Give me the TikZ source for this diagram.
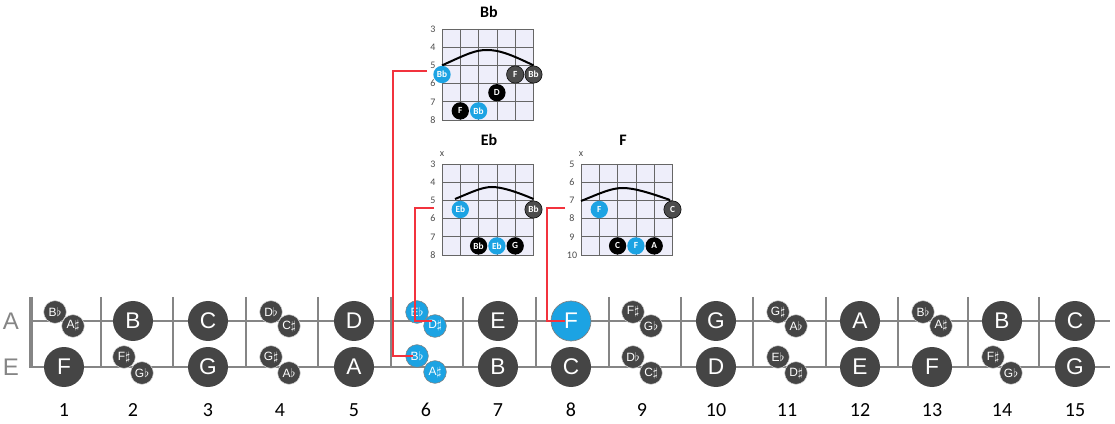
\documentclass[tikz,border=0pt]{standalone}
\usepackage{fontspec}
\setmainfont{Liberation Sans}
\newfontfamily\numfont{Carlito}
\definecolor{notegray}{HTML}{454545}
\definecolor{noteblue}{HTML}{1CA3E3}
\definecolor{linegray}{HTML}{858585}
\definecolor{chartbg}{HTML}{EEEEFA}
\definecolor{linkred}{HTML}{F2333D}
\newcommand{\fl}{$\flat$}
\newcommand{\sh}{$\sharp$}
\def\fretpos{{64,133,208,280,354,426,498,571,642,716,787,860,932,1002,1075}}
\tikzset{
  fretline/.style={linegray,line width=1.5pt},
  nutline/.style={linegray,line width=3.5pt},
  bignote/.style={circle,fill=notegray,minimum size=30pt,inner sep=0pt,text=white,font=\fontsize{17}{17}\selectfont},
  bluenote/.style={bignote,fill=noteblue,draw=gray,line width=0.5pt},
  smallnote/.style={circle,fill=notegray,draw=white!70!gray,line width=0.4pt,minimum size=17pt,inner sep=0pt,text=white,font=\fontsize{9}{9}\selectfont},
  bluesmall/.style={smallnote,fill=noteblue,draw=gray},
  stringname/.style={text=linegray,font=\fontsize{18}{18}\selectfont},
  fretnum/.style={font=\numfont\fontsize{15}{15}\selectfont},
  chartline/.style={black!60,line width=0.5pt},
  barre/.style={black,line width=1.5pt},
  charttitle/.style={font=\numfont\bfseries\fontsize{12}{12}\selectfont},
  chartfret/.style={text=black!70,font=\numfont\fontsize{7.5}{7.5}\selectfont},
  rootdot/.style={circle,fill=noteblue,minimum size=13pt,inner sep=0pt,text=white,font=\numfont\bfseries\fontsize{7}{7}\selectfont},
  tonedot/.style={rootdot,fill=black},
  barredot/.style={rootdot,fill=black!70,draw=black,line width=0.4pt},
  link/.style={linkred,line width=1.8pt},
}
\begin{document}
\begin{tikzpicture}[x=0.75pt,y=-0.75pt]
\useasboundingbox (0,0) rectangle (1115,424);

% fretboard
\foreach \x in {101,173,246,318,391,463,536,609,681,753,826,898,968,1039}
  \draw[fretline] (\x,297) -- (\x,367);
\draw[fretline] (30,321) -- (1110,321);
\draw[fretline] (30,367) -- (1110,367);
\draw[nutline] (31,297) -- (31,368);
\node[stringname] at (11,321) (sa) {A};
\node[stringname] at (11,367) (se) {E};
\foreach \f in {1,...,15} {
  \pgfmathsetmacro\cx{\fretpos[\f-1]}
  \node[fretnum] at (\cx,410) (n\f) {\f};
}

% A string
\foreach \f/\t in {2/B,3/C,5/D,7/E,10/G,12/A,14/B,15/C} {
  \pgfmathsetmacro\cx{\fretpos[\f-1]}
  \node[bignote] at (\cx,321) (a\f) {\t};
}
\foreach \f/\u/\l in {1/B\fl/A\sh,4/D\fl/C\sh,9/F\sh/G\fl,11/G\sh/A\fl,13/B\fl/A\sh} {
  \pgfmathsetmacro\cx{\fretpos[\f-1]}
  \node[smallnote] at (\cx-9,312) (a\f u) {\u};
  \node[smallnote] at (\cx+9,326) (a\f l) {\l};
}
\node[bluesmall] at (417,312) (a6u) {E\fl};
\node[bluesmall] at (435,326) (a6l) {D\sh};
\node[bluenote] at (571,321) (a8) {F};

% E string
\foreach \f/\t in {1/F,3/G,5/A,7/B,8/C,10/D,12/E,13/F,15/G} {
  \pgfmathsetmacro\cx{\fretpos[\f-1]}
  \node[bignote] at (\cx,367) (e\f) {\t};
}
\foreach \f/\u/\l in {2/F\sh/G\fl,4/G\sh/A\fl,9/D\fl/C\sh,11/E\fl/D\sh,14/F\sh/G\fl} {
  \pgfmathsetmacro\cx{\fretpos[\f-1]}
  \node[smallnote] at (\cx-9,357) (e\f u) {\u};
  \node[smallnote] at (\cx+9,373) (e\f l) {\l};
}
\node[bluesmall] at (417,356) (e6u) {B\fl};
\node[bluesmall] at (435,372) (e6l) {A\sh};

% Bb chart
\begin{scope}[shift={(442,29)}]
  \fill[chartbg] (0,0) rectangle (91.5,91);
  \foreach \i in {0,...,5} {
    \draw[chartline] (\i*18.3,0) -- (\i*18.3,91);
    \draw[chartline] (0,\i*18.2) -- (91.5,\i*18.2);
  }
  \foreach \n [count=\i from 0] in {3,...,8}
    \node[chartfret] at (-9,\i*18.2) {\n};
  \node[charttitle] at (47,-17) (bbtitle) {Bb};
  \draw[barre] (0,36.4) .. controls (25,25) and (33,21) .. (45,21)
    .. controls (57,21) and (68,25) .. (91.5,36.4);
  \node[rootdot] at (0,45.5) (bb1) {Bb};
  \node[barredot] at (73.2,45.5) (bb2) {F};
  \node[barredot] at (91.5,45.5) (bb3) {Bb};
  \node[tonedot] at (54.9,63.7) (bb4) {D};
  \node[tonedot] at (18.3,81.9) (bb5) {F};
  \node[rootdot] at (36.6,81.9) (bb6) {Bb};
  \coordinate (bbtail) at (-15,42);
\end{scope}

% Eb chart
\begin{scope}[shift={(442,164)}]
  \fill[chartbg] (0,0) rectangle (91.5,91);
  \foreach \i in {0,...,5} {
    \draw[chartline] (\i*18.3,0) -- (\i*18.3,91);
    \draw[chartline] (0,\i*18.2) -- (91.5,\i*18.2);
  }
  \foreach \n [count=\i from 0] in {3,...,8}
    \node[chartfret] at (-9,\i*18.2) {\n};
  \node[charttitle] at (47,-24) (ebtitle) {Eb};
  \node[chartfret] at (0,-10) (ebmute) {x};
  \draw[barre] (13,35) .. controls (30,28) and (40,23) .. (50,23)
    .. controls (60,23) and (75,28) .. (91.5,35);
  \node[rootdot] at (18.3,45.5) (eb1) {Eb};
  \node[barredot] at (91.5,45.5) (eb2) {Bb};
  \node[tonedot] at (36.6,81.9) (eb3) {Bb};
  \node[rootdot] at (54.9,81.9) (eb4) {Eb};
  \node[tonedot] at (73.2,81.9) (eb5) {G};
  \coordinate (ebtail) at (-8,44);
\end{scope}

% F chart
\begin{scope}[shift={(581,164)}]
  \fill[chartbg] (0,0) rectangle (91.5,91);
  \foreach \i in {0,...,5} {
    \draw[chartline] (\i*18.3,0) -- (\i*18.3,91);
    \draw[chartline] (0,\i*18.2) -- (91.5,\i*18.2);
  }
  \foreach \n [count=\i from 0] in {5,...,10}
    \node[chartfret] at (-9,\i*18.2) {\n};
  \node[charttitle] at (42,-24) (ftitle) {F};
  \node[chartfret] at (0,-10) (fmute) {x};
  \draw[barre] (0,37) .. controls (20,29) and (30,24) .. (42,24)
    .. controls (54,24) and (72,30) .. (89,36);
  \node[rootdot] at (18.3,45.5) (f1) {F};
  \node[barredot] at (91.5,45.5) (f2) {C};
  \node[tonedot] at (36.6,81.9) (f3) {C};
  \node[rootdot] at (54.9,81.9) (f4) {F};
  \node[tonedot] at (73.2,81.9) (f5) {A};
  \coordinate (ftail) at (-16,44);
\end{scope}

% links from charts to the fretboard
\draw[link,shorten >=3pt] (bbtail) -- ++(-34,0) |- (e6u.center);
\draw[link,shorten >=2pt] (ebtail) -- ++(-19,0) |- (a6l.center |- a8.center);
\draw[link,shorten >=4.5pt] (ftail) -- ++(-18,0) |- (a8.center);
\end{tikzpicture}
\end{document}
